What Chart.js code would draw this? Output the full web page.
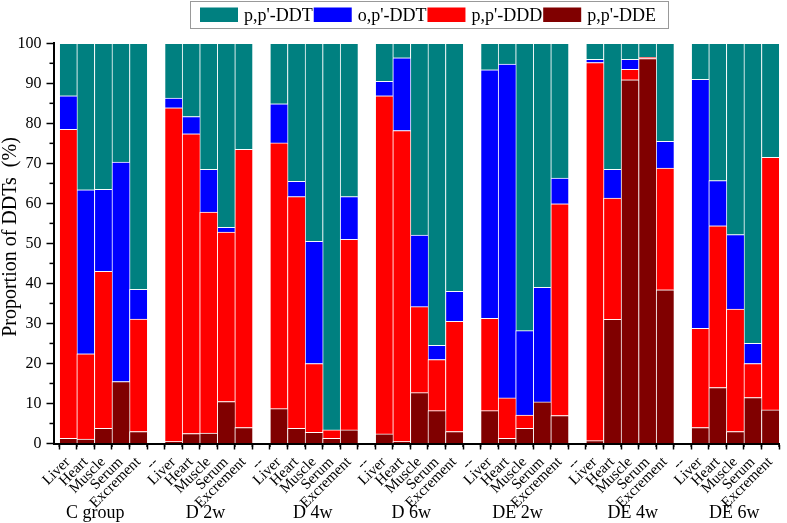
<!DOCTYPE html>
<html>
<head>
<meta charset="utf-8">
<script src="https://cdn.jsdelivr.net/npm/chart.js@4/dist/chart.umd.min.js"></script>
<style>
html,body{margin:0;padding:0;background:#fff;}
#wrap{width:787px;height:523px;position:relative;}
</style>
</head>
<body>
<div id="wrap"><canvas id="c" width="787" height="523"></canvas></div>
<script>
// ---------- data ----------
const groups = ['C group', 'D 2w', 'D 4w', 'D 6w', 'DE 2w', 'DE 4w', 'DE 6w'];
const tissues = ['Liver', 'Heart', 'Muscle', 'Serum', 'Excrement'];
const gapLabel = '--';
const yTickValues = [0, 10, 20, 30, 40, 50, 60, 70, 80, 90, 100];

// values in group order, 5 tissues per group (%)
const ppDDE = [
  1.3, 1.1, 3.8, 15.5, 3.0,
  0.5, 2.5, 2.6, 10.5, 4.0,
  8.7, 3.8, 2.8, 1.3, 3.4,
  2.4, 0.5, 12.7, 8.2, 3.0,
  8.2, 1.3, 3.8, 10.4, 7.0,
  0.7, 31.0, 90.9, 96.2, 38.4,
  4.0, 14.0, 3.0, 11.5, 8.4
];
const ppDDD = [
  77.2, 21.3, 39.2, 0.0, 28.1,
  83.4, 74.9, 55.2, 42.3, 69.5,
  66.4, 57.9, 17.2, 2.1, 47.6,
  84.5, 77.7, 21.5, 12.8, 27.5,
  23.1, 10.1, 3.3, 0.0, 52.9,
  94.5, 30.3, 2.6, 0.3, 30.4,
  24.8, 40.4, 30.6, 8.5, 63.1
];
const opDDT = [
  8.4, 41.0, 20.5, 54.8, 7.4,
  2.4, 4.3, 10.7, 1.2, 0.0,
  9.8, 3.8, 30.5, 0.0, 10.7,
  3.6, 18.2, 17.9, 3.5, 7.5,
  62.1, 83.4, 21.1, 28.6, 6.4,
  0.8, 7.2, 2.5, 0.0, 6.7,
  62.2, 11.3, 18.6, 5.0, 0.0
];
const ppDDT = [
  13.1, 36.6, 36.5, 29.7, 61.5,
  13.7, 18.3, 31.5, 46.0, 26.5,
  15.1, 34.5, 49.5, 96.6, 38.3,
  9.5, 3.6, 47.9, 75.5, 62.0,
  6.6, 5.2, 71.8, 61.0, 33.7,
  4.0, 31.5, 4.0, 3.5, 24.5,
  9.0, 34.3, 47.8, 75.0, 28.5
];

// ---------- build category slots (gap slot between groups) ----------
const labels = [];
const slot = [];
const groupMid = [];
groups.forEach((g, gi) => {
  if (gi > 0) labels.push(gapLabel);
  tissues.forEach((t, ti) => {
    if (ti === 2) groupMid.push(labels.length);
    slot.push(labels.length);
    labels.push(t);
  });
});
const pts = arr => arr.map((v, i) => ({ x: slot[i], y: v }));

// ---------- styles ----------
const SERIF = "'Liberation Serif', 'Times New Roman', serif";
const COLORS = { ppDDT: '#008080', opDDT: '#0000FF', ppDDD: '#FF0000', ppDDE: '#800000' };
const groupLabelShift = [-8, -3, -1, -8, -7, 3, -1];

const barStyle = {
  borderColor: 'rgba(255,255,255,0.9)',
  borderWidth: { top: 1, left: 1, right: 0, bottom: 0 },
  borderSkipped: false,
  barPercentage: 1.0,
  categoryPercentage: 1.0
};

const datasets = [
  Object.assign({ label: "p,p'-DDE", data: pts(ppDDE), backgroundColor: COLORS.ppDDE }, barStyle),
  Object.assign({ label: "p,p'-DDD", data: pts(ppDDD), backgroundColor: COLORS.ppDDD }, barStyle),
  Object.assign({ label: "o,p'-DDT", data: pts(opDDT), backgroundColor: COLORS.opDDT }, barStyle),
  Object.assign({ label: "p,p'-DDT", data: pts(ppDDT), backgroundColor: COLORS.ppDDT }, barStyle)
];

const decor = {
  id: 'decor',
  afterDraw(chart) {
    const { ctx, chartArea, scales } = chart;
    const x = scales.x, y = scales.y;
    ctx.save();
    // minor ticks x
    ctx.strokeStyle = '#000';
    ctx.lineWidth = 1.5;
    for (let i = -0.5; i <= labels.length - 0.5; i += 1) {
      const px = x.getPixelForValue(i);
      ctx.beginPath();
      ctx.moveTo(px, chartArea.bottom);
      ctx.lineTo(px, chartArea.bottom + 3.5);
      ctx.stroke();
    }
    // minor ticks y
    for (let v = 5; v < 100; v += 10) {
      const py = y.getPixelForValue(v);
      ctx.beginPath();
      ctx.moveTo(chartArea.left, py);
      ctx.lineTo(chartArea.left - 4, py);
      ctx.stroke();
    }
    // group labels
    ctx.fillStyle = '#000';
    ctx.font = '18px ' + SERIF;
    ctx.textAlign = 'center';
    ctx.textBaseline = 'alphabetic';
    groups.forEach((g, gi) => {
      ctx.fillText(g, x.getPixelForValue(groupMid[gi]) + groupLabelShift[gi], 518);
    });
    // y-axis title
    ctx.save();
    ctx.translate(15.5, 237);
    ctx.rotate(-Math.PI / 2);
    ctx.font = '20px ' + SERIF;
    ctx.textAlign = 'center';
    ctx.textBaseline = 'alphabetic';
    ctx.fillText('Proportion of DDTs  (%)', 0, 0);
    ctx.restore();
    // legend (top-down order)
    ctx.strokeStyle = '#999';
    ctx.lineWidth = 1;
    ctx.strokeRect(190.5, 1.5, 478, 27);
    ctx.font = '18px ' + SERIF;
    ctx.textAlign = 'left';
    let lx = 200;
    datasets.slice().reverse().forEach(ds => {
      ctx.fillStyle = ds.backgroundColor;
      ctx.fillRect(lx, 7.5, 38, 14.5);
      lx += 38 + 6;
      ctx.fillStyle = '#000';
      ctx.fillText(ds.label, lx, 20.5);
      lx += ctx.measureText(ds.label).width + 1;
    });
    ctx.restore();
  }
};

new Chart(document.getElementById('c'), {
  type: 'bar',
  data: { datasets },
  options: {
    responsive: false,
    animation: false,
    layout: { padding: { top: 43.3, right: 1, left: 0, bottom: 0 } },
    plugins: { legend: { display: false }, tooltip: { enabled: false } },
    scales: {
      x: {
        type: 'linear',
        stacked: true,
        min: -0.83,
        max: labels.length - 0.45,
        offset: false,
        afterBuildTicks: s => { s.ticks = labels.map((_, i) => ({ value: i })); },
        afterFit: s => { s.height = 79.5; },
        ticks: {
          autoSkip: false,
          minRotation: 45,
          maxRotation: 45,
          padding: 4,
          color: '#000',
          font: { family: SERIF, size: 15 },
          callback: v => labels[v]
        },
        grid: { drawOnChartArea: false, drawTicks: true, tickLength: 6, tickColor: '#000', tickWidth: 1.5 },
        border: { display: true, color: '#000', width: 2 }
      },
      y: {
        stacked: true,
        min: 0,
        max: 100,
        afterBuildTicks: s => { s.ticks = yTickValues.map(v => ({ value: v })); },
        afterFit: s => { s.width = 53.5; },
        ticks: { padding: 5, color: '#000', font: { family: SERIF, size: 16 } },
        grid: { drawOnChartArea: false, drawTicks: true, tickLength: 7, tickColor: '#000', tickWidth: 1.5 },
        border: { display: true, color: '#000', width: 2 }
      }
    }
  },
  plugins: [decor]
});
</script>
</body>
</html>
